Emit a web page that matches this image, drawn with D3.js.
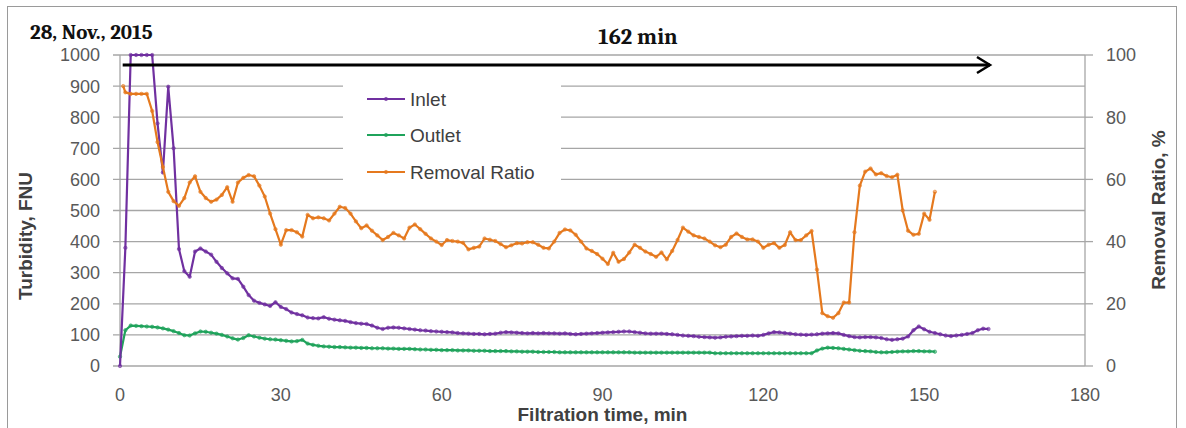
<!DOCTYPE html>
<html>
<head>
<meta charset="utf-8">
<script src="https://cdn.jsdelivr.net/npm/d3@7"></script>
<style>
  html, body { margin: 0; padding: 0; background: #fff; }
  svg { display: block; }
</style>
</head>
<body>
<svg id="chart" width="1186" height="428"></svg>
<script>
// ---------------- DATA ----------------
const inletTime = d3.range(0, 163);
const inletValue = [
  0, 380, 1000, 1000, 1000, 1000, 1000, 780, 622, 898,
  700, 376, 305, 287, 368, 378, 368, 358, 335, 315,
  298, 282, 280, 255, 228, 210, 203, 198, 193, 205,
  190, 183, 172, 167, 163, 156, 154, 153, 157, 152,
  149, 147, 145, 141, 138, 136, 135, 130, 123, 119,
  123, 124, 123, 121, 119, 117, 115, 114, 112, 111,
  110, 109, 108, 106, 105, 104, 103, 103, 102, 103,
  104, 107, 109, 108, 107, 106, 105, 106, 105, 106,
  105, 105, 104, 105, 103, 102, 103, 104, 105, 106,
  107, 108, 109, 110, 111, 111, 109, 107, 105, 104,
  104, 104, 103, 102, 100, 98, 97, 96, 94, 93,
  92, 91, 92, 94, 95, 96, 97, 97, 98, 97,
  100, 105, 109, 108, 106, 104, 102, 101, 100, 101,
  102, 104, 105, 106, 105, 100, 96, 93, 92, 93,
  93, 92, 90, 86, 84, 86, 88, 95, 115, 127,
  118, 110, 106, 102, 98, 96, 98, 100, 103, 106,
  115, 120, 119
];
const outletTime = d3.range(0, 153);
const outletValue = [
  30, 115, 130, 129, 128, 127, 126, 124, 121, 117,
  112, 106, 99, 98, 105, 111, 110, 107, 104, 100,
  95, 89, 85, 90, 99, 95, 91, 88, 86, 85,
  83, 81, 79, 80, 84, 72, 68, 65, 63, 62,
  61, 61, 60, 59, 59, 58, 58, 57, 57, 57,
  56, 56, 55, 55, 55, 54, 53, 53, 52, 52,
  51, 51, 51, 50, 50, 50, 49, 49, 49, 48,
  48, 48, 48, 47, 47, 46, 46, 46, 45, 45,
  45, 45, 44, 44, 44, 44, 44, 44, 44, 44,
  44, 44, 44, 44, 44, 44, 43, 43, 43, 43,
  43, 43, 43, 43, 43, 43, 43, 43, 43, 43,
  43, 41, 41, 41, 41, 41, 41, 41, 41, 41,
  41, 41, 41, 41, 41, 41, 41, 41, 41, 41,
  50, 56, 59, 58, 57, 55, 53, 51, 49, 48,
  47, 45, 44, 44, 45, 46, 47, 47, 48, 48,
  47, 47, 46
];
const ratioTime = [0.6].concat(d3.range(1, 153));
const ratioValue = [
  90, 88, 87.5, 87.5, 87.5, 87.5, 82, 72, 64, 56,
  53, 51.5, 54, 59, 61, 56, 54, 52.8, 53.5, 55,
  57.5, 52.8, 59, 60.5, 61.4, 61, 58, 54.5, 49, 44,
  39, 43.7, 43.7, 43, 41.6, 48.6, 47.5, 47.8, 47.5, 46.8,
  49, 51.2, 50.8, 49, 46.5, 44.3, 45.2, 43.5, 42, 40.5,
  41.5, 42.8, 42, 41, 44.5, 45.5, 44, 42.5, 41, 40,
  38.9, 40.5, 40.2, 40, 39.6, 37.5, 38, 38.4, 41, 40.6,
  40.2, 39.2, 38.2, 38.8, 39.5, 39.4, 39.8, 39.8, 39, 38,
  37.8, 40, 42.8, 43.9, 43.6, 42.2, 40, 37.8, 37, 36,
  34.5, 32.8, 36.4, 33.5, 34.4, 36.5, 39, 38, 36.8, 36,
  35.1, 36.5, 34.3, 37, 40.5, 44.5, 43.2, 42, 41.5, 41,
  40, 38.8, 38.2, 39, 41.5, 42.6, 41.5, 40.7, 40.7, 40,
  38, 39, 39.5, 38, 38.9, 43, 40.5, 40.5, 42, 43.4,
  31, 17, 16, 15.5, 17, 20.4, 20.4, 43, 58, 62.5,
  63.5, 61.6, 62, 61.1, 60.7, 61.5, 50, 43.5, 42.2, 42.5,
  49, 47, 56
];
const xTicks = [0, 30, 60, 90, 120, 150, 180];
const yLeftTicks = [0, 100, 200, 300, 400, 500, 600, 700, 800, 900, 1000];
const yRightTicks = [0, 20, 40, 60, 80, 100];
const seriesNames = ["Inlet", "Outlet", "Removal Ratio"];
const seriesColors = ["#7030A0", "#1FA35B", "#E5791E"];

// ---------------- LAYOUT ----------------
const svg = d3.select("#chart");
const X0 = 120, X1 = 1085, Y0 = 366, Y1 = 55;
const x = d3.scaleLinear().domain([0, 180]).range([X0, X1]);
const yL = d3.scaleLinear().domain([0, 1000]).range([Y0, Y1]);
const yR = d3.scaleLinear().domain([0, 100]).range([Y0, Y1]);
const gridColor = "#a6a6a6";
const tickFont = "'Liberation Sans', Arial, sans-serif";

// outer frame
svg.append("rect").attr("x", 7.5).attr("y", 6.5).attr("width", 1169).attr("height", 430)
  .attr("fill", "none").attr("stroke", "#9a9a9a").attr("stroke-width", 1);

// gridlines (with left tick extension)
svg.append("g").selectAll("line").data(yLeftTicks).join("line")
  .attr("x1", X0 - 7).attr("x2", X1)
  .attr("y1", d => yL(d)).attr("y2", d => yL(d))
  .attr("stroke", gridColor).attr("stroke-width", 1.3);

// right tick extensions
svg.append("g").selectAll("line").data(yRightTicks).join("line")
  .attr("x1", X1).attr("x2", X1 + 8)
  .attr("y1", d => yR(d)).attr("y2", d => yR(d))
  .attr("stroke", gridColor).attr("stroke-width", 1.3);

// axis lines
svg.append("line").attr("x1", X0).attr("x2", X0).attr("y1", Y1).attr("y2", Y0)
  .attr("stroke", gridColor).attr("stroke-width", 1.3);
svg.append("line").attr("x1", X1).attr("x2", X1).attr("y1", Y1).attr("y2", Y0)
  .attr("stroke", gridColor).attr("stroke-width", 1.3);

// tick labels
svg.append("g").selectAll("text").data(yLeftTicks).join("text")
  .attr("x", 100).attr("y", d => yL(d)).attr("dy", "0.36em")
  .attr("text-anchor", "end").attr("font-family", tickFont).attr("font-size", 18)
  .attr("fill", "#595959").text(d => d);
svg.append("g").selectAll("text").data(yRightTicks).join("text")
  .attr("x", 1106).attr("y", d => yR(d)).attr("dy", "0.36em")
  .attr("text-anchor", "start").attr("font-family", tickFont).attr("font-size", 18)
  .attr("fill", "#595959").text(d => d);
svg.append("g").selectAll("text").data(xTicks).join("text")
  .attr("x", d => x(d)).attr("y", 401)
  .attr("text-anchor", "middle").attr("font-family", tickFont).attr("font-size", 18)
  .attr("fill", "#595959").text(d => d);

// axis titles
svg.append("text").attr("x", (X0 + X1) / 2).attr("y", 421).attr("text-anchor", "middle")
  .attr("font-family", tickFont).attr("font-weight", "bold").attr("font-size", 19)
  .attr("fill", "#404040").text("Filtration time, min");
svg.append("text").attr("transform", "translate(32,236) rotate(-90)").attr("text-anchor", "middle")
  .attr("font-family", tickFont).attr("font-weight", "bold").attr("font-size", 19)
  .attr("fill", "#404040").text("Turbidity, FNU");
svg.append("text").attr("transform", "translate(1165,210) rotate(-90)").attr("text-anchor", "middle")
  .attr("font-family", tickFont).attr("font-weight", "bold").attr("font-size", 19)
  .attr("fill", "#404040").text("Removal Ratio, %");

// legend box
svg.append("rect").attr("x", 343).attr("y", 68).attr("width", 218).attr("height", 134).attr("fill", "#fff");

// series
function drawSeries(times, values, yScale, color) {
  const pts = times.map((t, i) => [t, values[i]]);
  const line = d3.line().x(d => x(d[0])).y(d => yScale(d[1]));
  svg.append("path").datum(pts).attr("d", line).attr("fill", "none")
    .attr("stroke", color).attr("stroke-width", 2.2).attr("stroke-linejoin", "round");
  svg.append("g").selectAll("circle").data(pts).join("circle")
    .attr("cx", d => x(d[0])).attr("cy", d => yScale(d[1])).attr("r", 1.7)
    .attr("fill", color).attr("fill-opacity", 0.55).attr("stroke", color).attr("stroke-width", 0.6);
}
drawSeries(outletTime, outletValue, yL, seriesColors[1]);
drawSeries(inletTime, inletValue, yL, seriesColors[0]);
drawSeries(ratioTime, ratioValue, yR, seriesColors[2]);

// legend items
const legendY = [99, 135, 172];
seriesNames.forEach((name, i) => {
  svg.append("line").attr("x1", 367).attr("x2", 405).attr("y1", legendY[i]).attr("y2", legendY[i])
    .attr("stroke", seriesColors[i]).attr("stroke-width", 2.2);
  svg.append("circle").attr("cx", 386).attr("cy", legendY[i]).attr("r", 1.7)
    .attr("fill", seriesColors[i]).attr("fill-opacity", 0.55).attr("stroke", seriesColors[i]).attr("stroke-width", 0.6);
  svg.append("text").attr("x", 410).attr("y", legendY[i]).attr("dy", "0.36em")
    .attr("font-family", tickFont).attr("font-size", 19).attr("fill", "#404040").text(name);
});

// arrow spanning the 162 min run
svg.append("line").attr("x1", x(0.5)).attr("x2", 990).attr("y1", 65).attr("y2", 65)
  .attr("stroke", "#000").attr("stroke-width", 3);
svg.append("path").attr("d", "M977,57 L990,65 L977,73").attr("fill", "none")
  .attr("stroke", "#000").attr("stroke-width", 2.5).attr("stroke-linejoin", "miter");

// annotations
const serif = "Cambria, 'Liberation Serif', 'DejaVu Serif', serif";
svg.append("text").attr("x", 30).attr("y", 39).attr("font-family", serif).attr("font-weight", "bold")
  .attr("font-size", 21).attr("fill", "#111").text("28, Nov., 2015");
svg.append("text").attr("x", 638).attr("y", 44).attr("text-anchor", "middle").attr("font-family", serif)
  .attr("font-weight", "bold").attr("font-size", 22.5).attr("fill", "#111").text("162 min");
</script>
</body>
</html>
